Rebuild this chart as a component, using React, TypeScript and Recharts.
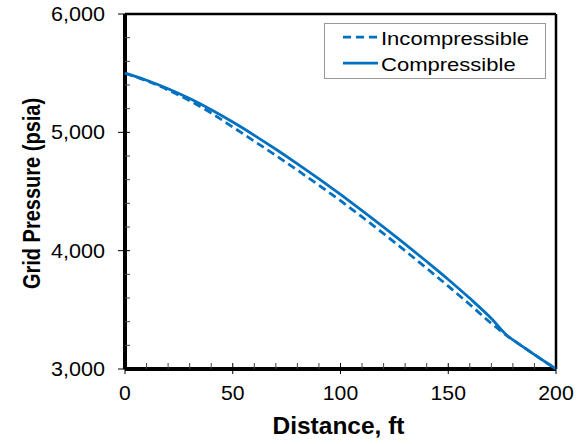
import React from 'react';
import { LineChart, Line, XAxis, YAxis, ReferenceLine, Legend } from 'recharts';

const distanceFt = [0, 10, 20, 30, 40, 50, 60, 70, 80, 90, 100, 110, 120, 130, 140, 150, 160, 170, 178, 180, 190, 200];
const compressible = [5500, 5440, 5368, 5285, 5191, 5087, 4975, 4857, 4734, 4607, 4475, 4339, 4199, 4055, 3908, 3757, 3597, 3427, 3272, 3247, 3122, 3000];
const incompressible = [5500, 5436, 5358, 5267, 5163, 5045, 4925, 4805, 4680, 4553, 4422, 4285, 4144, 3999, 3851, 3700, 3545, 3385, 3272, 3247, 3122, 3000];

const xTicks = [0, 10, 20, 30, 40, 50, 60, 70, 80, 90, 100, 110, 120, 130, 140, 150, 160, 170, 180, 190, 200];
const yTicks = [3000, 3200, 3400, 3600, 3800, 4000, 4200, 4400, 4600, 4800, 5000, 5200, 5400, 5600, 5800, 6000];
const xBounds = [0, 200];
const yBounds = [3000, 6000];
const seriesNames = ['Incompressible', 'Compressible'];
const xTitle = 'Distance, ft';
const yTitle = 'Grid Pressure (psia)';

const data = distanceFt.map((d, i) => ({
  distance: d,
  incompressible: incompressible[i],
  compressible: compressible[i],
}));

const BLUE = '#0070C0';
const FONT = '"Liberation Sans", Arial, sans-serif';

const XTick = (props: any) => {
  const { x, y, payload } = props;
  const v = payload.value;
  const major = v % 50 === 0;
  return (
    <g>
      {major ? (
        <line x1={x} x2={x} y1={y - 6} y2={y + 5} stroke="#000" strokeWidth={1} />
      ) : (
        <line x1={x} x2={x} y1={y - 6} y2={y} stroke="#444" strokeWidth={1} />
      )}
      {major && (
        <text
          transform={`translate(${x},${y + 31}) scale(1.06,1)`}
          textAnchor="middle"
          fontSize={20}
          fontFamily={FONT}
          fill="#000"
        >
          {v}
        </text>
      )}
    </g>
  );
};

const YTick = (props: any) => {
  const { x, y, payload } = props;
  const v = payload.value;
  const major = v % 1000 === 0;
  return (
    <g>
      {major ? (
        <line x1={x - 7} x2={x + 5} y1={y} y2={y} stroke="#000" strokeWidth={1} />
      ) : (
        <line x1={x} x2={x + 5} y1={y} y2={y} stroke="#444" strokeWidth={1} />
      )}
      {major && (
        <text
          transform={`translate(${x - 20},${y + 7}) scale(1.08,1)`}
          textAnchor="end"
          fontSize={20}
          fontFamily={FONT}
          fill="#000"
        >
          {v.toLocaleString('en-US')}
        </text>
      )}
    </g>
  );
};

const XTitle = (props: any) => {
  const { viewBox } = props;
  const cx = viewBox.x + viewBox.width / 2;
  return (
    <text
      transform={`translate(${cx - 2},434) scale(1.065,1)`}
      textAnchor="middle"
      fontSize={23}
      fontWeight="bold"
      fontFamily={FONT}
      fill="#000"
    >
      {xTitle}
    </text>
  );
};

const YTitle = (props: any) => {
  const { viewBox } = props;
  const cy = viewBox.y + viewBox.height / 2;
  return (
    <text
      transform={`translate(40,${cy + 2}) rotate(-90) scale(0.87,1)`}
      textAnchor="middle"
      fontSize={23}
      fontWeight="bold"
      fontFamily={FONT}
      fill="#000"
    >
      {yTitle}
    </text>
  );
};

const LegendBox = () => (
  <svg width={223} height={57} style={{ display: 'block' }}>
    <rect x={0.5} y={0.5} width={221} height={55} fill="#fff" stroke="#999" strokeWidth={1} />
    <line x1={19} x2={54} y1={14} y2={14} stroke={BLUE} strokeWidth={2.75} strokeDasharray="8 5" />
    <text transform="translate(57,21.5) scale(1.16,1)" fontSize={19} fontFamily={FONT} fill="#000">
      {seriesNames[0]}
    </text>
    <line x1={19} x2={54} y1={40} y2={40} stroke={BLUE} strokeWidth={2.75} />
    <text transform="translate(57,47.5) scale(1.16,1)" fontSize={19} fontFamily={FONT} fill="#000">
      {seriesNames[1]}
    </text>
  </svg>
);

export default function App() {
  return (
    <div style={{ position: 'absolute', left: 0, top: 0, width: 582, height: 444, background: '#fff' }}>
      <LineChart width={582} height={444} data={data} margin={{ top: 14, right: 26, left: 0, bottom: 0 }}>
        <XAxis
          dataKey="distance"
          type="number"
          domain={xBounds}
          ticks={xTicks}
          interval={0}
          height={75}
          axisLine={false}
          tickLine={false}
          tickSize={0}
          tickMargin={0}
          tick={<XTick />}
          label={<XTitle />}
        />
        <YAxis
          type="number"
          domain={yBounds}
          ticks={yTicks}
          interval={0}
          width={125}
          axisLine={false}
          tickLine={false}
          tickSize={0}
          tickMargin={0}
          tick={<YTick />}
          label={<YTitle />}
        />
        <ReferenceLine x={xBounds[0]} stroke="#000" strokeWidth={4} ifOverflow="visible" />
        <ReferenceLine x={xBounds[1]} stroke="#000" strokeWidth={2.5} ifOverflow="visible" />
        <ReferenceLine y={yBounds[0]} stroke="#000" strokeWidth={4} ifOverflow="visible" />
        <ReferenceLine y={yBounds[1]} stroke="#000" strokeWidth={2.5} ifOverflow="visible" />
        <Line
          type="monotone"
          dataKey="incompressible"
          name={seriesNames[0]}
          stroke={BLUE}
          strokeWidth={2.75}
          strokeDasharray="8 4.5"
          dot={false}
          isAnimationActive={false}
        />
        <Line
          type="monotone"
          dataKey="compressible"
          name={seriesNames[1]}
          stroke={BLUE}
          strokeWidth={2.75}
          dot={false}
          isAnimationActive={false}
        />
        <Legend
          layout="horizontal"
          verticalAlign="middle"
          align="center"
          wrapperStyle={{ position: 'absolute', left: 324, top: 23, width: 223, height: 57 }}
          content={() => <LegendBox />}
        />
      </LineChart>
    </div>
  );
}
